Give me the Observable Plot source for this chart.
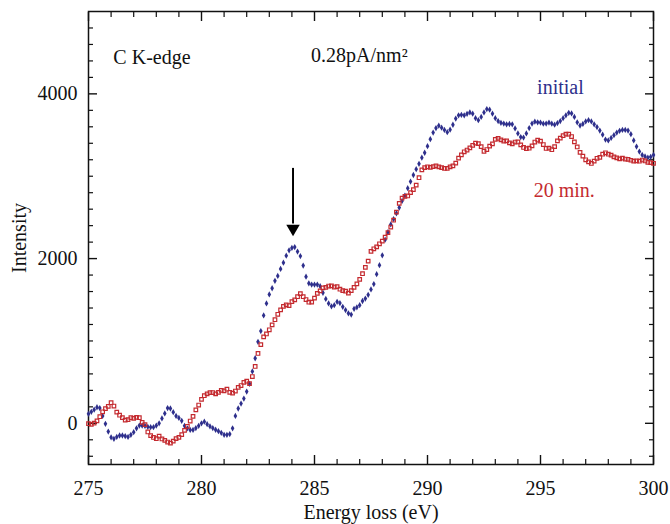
<!DOCTYPE html>
<html>
<head>
<meta charset="utf-8">
<script src="https://cdn.jsdelivr.net/npm/d3@7"></script>
<script src="https://cdn.jsdelivr.net/npm/@observablehq/plot@0.6"></script>
<style>
  html, body { margin: 0; padding: 0; background: #fff; }
</style>
</head>
<body>
<div id="chart"></div>
<script>
// Energy grid of the spectra (eV)
const energyStart = 275;
const energyStep = 0.125;

// "initial" spectrum intensities
const initialValues = [
  115, 140, 165, 195, 185, 90, -6, -100, -170, -188, -165, -148, -148, -155, -165, -140,
  -108, -60, -27, -27, -32, -43, -47, -47, -27, 0, 60, 120, 185, 180, 135, 90,
  65, 30, -30, -60, -80, -80, -58, -30, 0, 20, -10, -37, -58, -78, -95, -115,
  -140, -140, -130, -60, 90, 180, 240, 300, 385, 480, 630, 790, 990, 1120, 1310, 1455,
  1565, 1640, 1730, 1790, 1874, 1950, 2035, 2100, 2130, 2140, 2085, 2030, 1915, 1780, 1700, 1684,
  1684, 1684, 1665, 1585, 1510, 1455, 1420, 1435, 1475, 1460, 1415, 1375, 1335, 1320, 1390, 1409,
  1435, 1485, 1515, 1560, 1625, 1690, 1810, 1920, 2040, 2230, 2320, 2415, 2480, 2550, 2620, 2700,
  2765, 2855, 2935, 3015, 3085, 3150, 3225, 3285, 3365, 3450, 3530, 3585, 3614, 3590, 3562, 3535,
  3565, 3625, 3700, 3740, 3745, 3740, 3758, 3775, 3760, 3705, 3680, 3720, 3775, 3815, 3808, 3760,
  3705, 3670, 3648, 3640, 3630, 3634, 3630, 3580, 3520, 3475, 3470, 3520, 3585, 3640, 3662, 3655,
  3652, 3638, 3640, 3652, 3638, 3626, 3645, 3670, 3705, 3740, 3770, 3762, 3720, 3655, 3615, 3635,
  3665, 3680, 3665, 3630, 3597, 3555, 3505, 3445, 3435, 3465, 3498, 3530, 3552, 3562, 3562, 3555,
  3510, 3435, 3360, 3300, 3258, 3240, 3225, 3235, 3258
];

// "20 min." spectrum intensities
const min20Values = [
  -5, -13, 2, 30, 80, 140, 178, 205, 250, 210, 135, 98, 70, 38, 44, 68,
  60, 72, 68, 12, -15, -105, -150, -172, -187, -155, -190, -207, -227, -240, -217, -185,
  -170, -138, -85, -36, 28, 85, 163, 222, 290, 335, 358, 372, 374, 358, 375, 400,
  393, 414, 377, 367, 392, 437, 459, 498, 511, 482, 568, 690, 848, 955, 1050, 1085,
  1136, 1196, 1258, 1324, 1378, 1420, 1438, 1429, 1477, 1499, 1537, 1575, 1537, 1503, 1470, 1472,
  1520, 1578, 1608, 1644, 1651, 1667, 1668, 1655, 1660, 1628, 1612, 1604, 1580, 1611, 1650, 1693,
  1747, 1816, 1893, 1970, 2087, 2119, 2142, 2180, 2213, 2261, 2315, 2383, 2466, 2565, 2670, 2734,
  2755, 2760, 2800, 2837, 2892, 2982, 3078, 3105, 3115, 3108, 3116, 3126, 3113, 3104, 3094, 3096,
  3113, 3126, 3160, 3220, 3260, 3297, 3318, 3345, 3375, 3402, 3396, 3360, 3303, 3324, 3366, 3393,
  3447, 3460, 3442, 3426, 3429, 3405, 3392, 3415, 3416, 3380, 3349, 3334, 3340, 3369, 3415, 3438,
  3426, 3385, 3337, 3342, 3322, 3360, 3430, 3463, 3492, 3512, 3510, 3482, 3418, 3355, 3290, 3245,
  3200, 3174, 3155, 3183, 3218, 3228, 3267, 3285, 3267, 3256, 3235, 3222, 3210, 3219, 3209, 3206,
  3194, 3184, 3187, 3182, 3197, 3185, 3169, 3166, 3157
];

// Axis ticks and titles
const xMajorTicks = [275, 280, 285, 290, 295, 300];
const xMinorTicks = [276, 277, 278, 279, 281, 282, 283, 284, 286, 287, 288, 289, 291, 292, 293, 294, 296, 297, 298, 299];
const yMajorTicks = [0, 2000, 4000];
const yMinorTicks = [-400, -200, 200, 400, 600, 800, 1000, 1200, 1400, 1600, 1800, 2200, 2400, 2600, 2800, 3000, 3200, 3400, 3600, 3800, 4200, 4400, 4600, 4800];
const xTitle = "Energy loss (eV)";
const yTitle = "Intensity";

// Annotations (data coordinates)
const annotationTexts = ["C K-edge", "0.28pA/nm²", "initial", "20 min."];
const annotationX = [276.1, 284.85, 294.85, 294.7];
const annotationY = [4440, 4470, 4075, 2825];
const annotationColors = ["#111", "#111", "#2e2f8c", "#c42a2f"];

const arrowX = [284.05];
const arrowTop = [3095];
const arrowShaftEnd = [2420];
const arrowHead = [2365];

const initialData = initialValues.map((v, i) => ({energy: energyStart + i * energyStep, intensity: v}));
const min20Data = min20Values.map((v, i) => ({energy: energyStart + i * energyStep, intensity: v}));
const annotations = annotationTexts.map((t, i) => ({text: t, x: annotationX[i], y: annotationY[i], color: annotationColors[i]}));
const arrows = arrowX.map((x, i) => ({x, y1: arrowTop[i], y2: arrowShaftEnd[i], head: arrowHead[i]}));

const font = "'Liberation Serif', 'Times New Roman', serif";

const chart = Plot.plot({
  width: 670,
  height: 524,
  marginLeft: 88,
  marginRight: 17,
  marginTop: 11,
  marginBottom: 60,
  style: {fontFamily: font, fontSize: "20px", background: "#fff", color: "#111"},
  x: {domain: [275, 300]},
  y: {domain: [-500, 5000]},
  marks: [
    // bottom axis
    Plot.axisX({anchor: "bottom", ticks: xMajorTicks, tickSize: -9, tickPadding: 25, strokeWidth: 1.4,
      tickFormat: d3.format("d"), fontSize: 20, label: null}),
    Plot.axisX({anchor: "bottom", ticks: xMinorTicks, tickSize: -5, strokeWidth: 1.2, tickFormat: () => "", label: null}),
    // top axis
    Plot.axisX({anchor: "top", ticks: xMajorTicks, tickSize: -9, strokeWidth: 1.4, tickFormat: () => "", label: null}),
    Plot.axisX({anchor: "top", ticks: xMinorTicks, tickSize: -5, strokeWidth: 1.2, tickFormat: () => "", label: null}),
    // left axis
    Plot.axisY({anchor: "left", ticks: yMajorTicks, tickSize: -9, tickPadding: 20, strokeWidth: 1.4,
      tickFormat: d3.format("d"), fontSize: 20, label: null}),
    Plot.axisY({anchor: "left", ticks: yMinorTicks, tickSize: -5, strokeWidth: 1.2, tickFormat: () => "", label: null}),
    // right axis
    Plot.axisY({anchor: "right", ticks: yMajorTicks, tickSize: -9, strokeWidth: 1.4, tickFormat: () => "", label: null}),
    Plot.axisY({anchor: "right", ticks: yMinorTicks, tickSize: -5, strokeWidth: 1.2, tickFormat: () => "", label: null}),
    Plot.frame({stroke: "#111", strokeWidth: 1.5}),
    // axis titles
    Plot.text([xTitle], {frameAnchor: "bottom", textAnchor: "middle", lineAnchor: "bottom", dy: 54, text: d => d, fontSize: 20, fontFamily: font, fill: "#111"}),
    Plot.text([yTitle], {frameAnchor: "left", textAnchor: "middle", lineAnchor: "bottom", rotate: -90, dx: -63, text: d => d, fontSize: 20, fontFamily: font, fill: "#111"}),
    // data
    Plot.dot(initialData, {x: "energy", y: "intensity", symbol: "diamond", r: 1.9, fill: "#2e2f8c", stroke: "none"}),
    Plot.dot(min20Data, {x: "energy", y: "intensity", symbol: "square", r: 2, fill: "none", stroke: "#c42a2f", strokeWidth: 1.2}),
    // arrow
    Plot.ruleX(arrows, {x: "x", y1: "y1", y2: "y2", stroke: "#000", strokeWidth: 2}),
    Plot.dot(arrows, {x: "x", y: "head", symbol: "triangle", rotate: 180, r: 5, fill: "#000", stroke: "none"}),
    // annotations
    Plot.text(annotations, {x: "x", y: "y", text: "text", fill: "color", textAnchor: "start", fontSize: 20, fontFamily: font})
  ]
});

document.getElementById("chart").appendChild(chart);
</script>
</body>
</html>
